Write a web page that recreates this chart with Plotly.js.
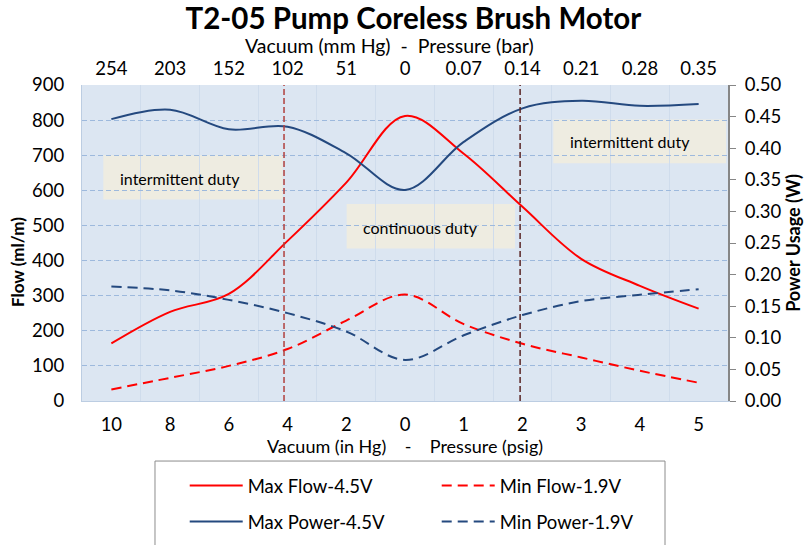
<!DOCTYPE html>
<html><head><meta charset="utf-8">
<script src="https://cdn.plot.ly/plotly-3.0.1.min.js"></script>
<style>body{margin:0;background:#fff}</style>
</head><body><div id="chart" style="width:806px;height:545px"></div>
<script>
const bottomLabels = ['10','8','6','4','2','0','1','2','3','4','5'];
const topLabels = ['254','203','152','102','51','0','0.07','0.14','0.21','0.28','0.35'];
const maxFlow = [164, 254, 305, 456, 622, 812, 704, 553, 405, 328, 263];
const minFlow = [33, 66, 100, 148, 229, 303, 219, 163, 124, 86, 52];
const maxPower = [0.446, 0.461, 0.430, 0.434, 0.392, 0.334, 0.410, 0.463, 0.475, 0.467, 0.470];
const minPower = [0.181, 0.175, 0.160, 0.139, 0.110, 0.065, 0.104, 0.136, 0.158, 0.168, 0.177];

const xs = bottomLabels.map((_, i) => i);
const FONT = 'Lato, "Open Sans", sans-serif';
const RED = '#FF0000', BLUE = '#24497F';
const sp = '\u00a0';

const traces = [
  {x: xs, y: maxFlow, name: 'Max Flow-4.5V', mode: 'lines', line: {color: RED, width: 2, shape: 'spline'}, legend: 'legend'},
  {x: xs, y: minFlow, name: 'Min Flow-1.9V', mode: 'lines', line: {color: RED, width: 2, dash: '10px,6px', shape: 'spline'}, legend: 'legend'},
  {x: xs, y: maxPower, name: 'Max Power-4.5V', mode: 'lines', yaxis: 'y2', line: {color: BLUE, width: 2, shape: 'spline'}, legend: 'legend2'},
  {x: xs, y: minPower, name: 'Min Power-1.9V', mode: 'lines', yaxis: 'y2', line: {color: BLUE, width: 2, dash: '10px,6px', shape: 'spline'}, legend: 'legend2'},
  {x: xs, y: maxFlow, xaxis: 'x2', mode: 'lines', line: {width: 0}, hoverinfo: 'skip', showlegend: false, opacity: 0}
];

const boxFill = '#EEECE1';
const layout = {
  width: 806, height: 545,
  margin: {l: 82, r: 78, t: 85, b: 144, autoexpand: false},
  paper_bgcolor: '#FFFFFF', plot_bgcolor: '#DCE6F2',
  font: {family: FONT, size: 18, color: '#000'},
  title: {text: '<b>T2-05 Pump Coreless Brush Motor</b>', font: {family: FONT, size: 29.5, color: '#000'},
          x: 0.513, xref: 'paper', xanchor: 'center', y: 0.965, yref: 'container', yanchor: 'middle'},
  xaxis: {range: [-0.5, 10.5], tickmode: 'array', tickvals: xs, ticktext: bottomLabels, tickfont: {size: 18.5},
          showgrid: false, zeroline: false, showline: true, linecolor: '#BCCDE2', linewidth: 1,
          ticks: '', ticklabelstandoff: 7, automargin: false,
          minor: {tick0: 0.5, dtick: 1, showgrid: true, gridcolor: '#CFDCEC', gridwidth: 1, ticks: ''},
          title: {text: 'Vacuum (in Hg)' + sp.repeat(4) + '-' + sp.repeat(4) + 'Pressure (psig)', standoff: 1, font: {size: 18}}},
  xaxis2: {overlaying: 'x', side: 'top', anchor: 'y', range: [-0.5, 10.5], tickmode: 'array', tickvals: xs, ticktext: topLabels, tickfont: {size: 18.5},
           showgrid: false, zeroline: false, showline: false, ticks: '', ticklabelstandoff: 5, automargin: false},
  yaxis: {range: [0, 900], dtick: 100, tick0: 0, showgrid: true, gridcolor: '#9DB9DD', griddash: '5px,3px', gridwidth: 1,
          zeroline: false, showline: true, linecolor: '#BCCDE2', ticks: '', ticklabelstandoff: 13, tickfont: {size: 18.5}, automargin: false},
  yaxis2: {overlaying: 'y', side: 'right', range: [0, 0.5], dtick: 0.05, tick0: 0, tickformat: '.2f', tickfont: {size: 18.5},
           showgrid: false, zeroline: false, showline: true, linecolor: '#868686', linewidth: 2, automargin: false,
           ticks: 'outside', ticklen: 6, tickcolor: '#868686', tickwidth: 1, ticklabelstandoff: 5,
           title: {text: '<b>Power Usage (W)</b>', standoff: 6, font: {size: 18}}},
  shapes: [
    {type: 'line', xref: 'x', yref: 'paper', x0: 2.94, x1: 2.94, y0: 0, y1: 1, line: {color: '#B0403E', width: 1.5, dash: '6px,3px'}},
    {type: 'line', xref: 'x', yref: 'paper', x0: 6.96, x1: 6.96, y0: 0, y1: 1, line: {color: '#5A2424', width: 1.5, dash: '6px,3px'}},
    {type: 'rect', xref: 'x', yref: 'y', x0: -0.137, x1: 2.917, y0: 574, y1: 700, fillcolor: boxFill, line: {width: 0}, layer: 'below'},
    {type: 'rect', xref: 'x', yref: 'y', x0: 4.007, x1: 6.873, y0: 434, y1: 561, fillcolor: boxFill, line: {width: 0}, layer: 'below'},
    {type: 'rect', xref: 'x', yref: 'y', x0: 7.525, x1: 10.466, y0: 677, y1: 802, fillcolor: boxFill, line: {width: 0}, layer: 'below'},
    {type: 'rect', xref: 'paper', yref: 'paper', x0: 0.113, x1: 0.9025, y0: -0.19, y1: -0.47, fillcolor: 'rgba(0,0,0,0)', line: {color: '#8C8C8C', width: 1}}
  ],
  annotations: [
    {text: 'Vacuum (mm Hg)' + sp.repeat(2) + '-' + sp.repeat(2) + 'Pressure (bar)', x: 0.2488, y: 45, xref: 'paper', yref: 'paper',
     xanchor: 'left', yanchor: 'middle', showarrow: false, font: {size: 19.5}},
    {text: '<b>Flow (ml/m)</b>', textangle: -90, x: -0.099, y: 0.44, xref: 'paper', yref: 'paper', xanchor: 'center', yanchor: 'middle', showarrow: false, font: {size: 17}},
    {text: 'intermittent duty', x: 0.113, y: 635, xref: 'x', yref: 'y', xanchor: 'left', yanchor: 'middle', showarrow: false, font: {size: 16}},
    {text: 'continuous duty', x: 4.253, y: 495, xref: 'x', yref: 'y', xanchor: 'left', yanchor: 'middle', showarrow: false, font: {size: 16}},
    {text: 'intermittent duty', x: 7.77, y: 738, xref: 'x', yref: 'y', xanchor: 'left', yanchor: 'middle', showarrow: false, font: {size: 16}}
  ],
  showlegend: true,
  legend: {orientation: 'h', x: 0.159, xanchor: 'left', y: -0.269, yanchor: 'middle', entrywidth: 184, entrywidthmode: 'pixels',
           itemwidth: 53, bgcolor: 'rgba(0,0,0,0)', font: {size: 18.5}, traceorder: 'normal'},
  legend2: {orientation: 'h', x: 0.159, xanchor: 'left', y: -0.383, yanchor: 'middle', entrywidth: 184, entrywidthmode: 'pixels',
            itemwidth: 53, bgcolor: 'rgba(0,0,0,0)', font: {size: 18.5}, traceorder: 'normal'}
};
// top axis title annotation: y given in pixels -> convert to paper units
layout.annotations[0].y = (401 - 45) / 316;

Plotly.newPlot('chart', traces, layout, {displayModeBar: false, responsive: false});
</script>
</body></html>
